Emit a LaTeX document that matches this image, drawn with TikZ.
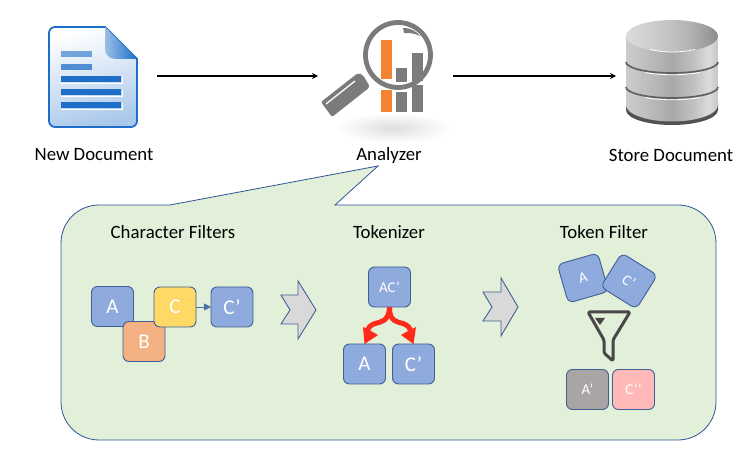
\documentclass[tikz,border=0pt]{standalone}
\usepackage{fontspec}
\setmainfont{Carlito}
\usetikzlibrary{arrows.meta,calc}
\definecolor{boxblue}{HTML}{8FAADC}
\definecolor{edgeblue}{HTML}{3F5F96}
\definecolor{boxorange}{HTML}{F4B183}
\definecolor{boxyellow}{HTML}{FFD966}
\definecolor{boxgrey}{HTML}{A9A5A5}
\definecolor{boxpink}{HTML}{FFB9B9}
\definecolor{bubble}{HTML}{E2EFD9}
\definecolor{bubbleedge}{HTML}{2F5597}
\definecolor{iconblue}{HTML}{1F6FC8}
\definecolor{lensgrey}{HTML}{7B7B7B}
\definecolor{barorange}{HTML}{F58231}
\definecolor{splitred}{HTML}{FF2A1A}
\pgfdeclarehorizontalshading{dbbody}{100bp}{gray(0bp)=(.80);gray(25bp)=(.80);gray(37bp)=(.74);gray(50bp)=(.66);gray(62bp)=(.76);gray(70bp)=(.86);gray(75bp)=(.78);gray(100bp)=(.78)}
\pgfdeclarehorizontalshading{dbtop}{100bp}{gray(0bp)=(.86);gray(25bp)=(.86);gray(45bp)=(.78);gray(60bp)=(.70);gray(75bp)=(.55);gray(100bp)=(.55)}
\tikzset{
  x=1pt,y=-1pt,
  lab/.style={font=\fontsize{18.8}{22}\selectfont,text=black,inner sep=0pt},
  tok/.style={draw=edgeblue,line width=0.9pt,rounded corners=6pt,minimum width=42pt,minimum height=40pt,inner sep=0pt,outer sep=0pt,text=white,font=\fontsize{21}{24}\selectfont},
  toksmall/.style={tok,font=\fontsize{15}{17}\selectfont},
  hidden/.style={inner sep=0pt,outer sep=0pt,minimum height=10pt},
  flow/.style={-{Stealth[length=6pt,width=6pt]},line width=1.1pt,black},
  stage/.style={draw=edgeblue,line width=0.9pt,fill=black!15,line join=miter},
  docbar/.style={fill=iconblue},
  splitline/.style={draw=splitred,line width=5pt},
  splithead/.style={fill=splitred},
}
\begin{document}
\begin{tikzpicture}
\useasboundingbox (0,0) rectangle (756,473);
\fill[white] (0,0) rectangle (756,473);

% hidden anchors for the top row
\node[hidden,minimum width=108pt] (doc) at (103,76) {};
\node[hidden,minimum width=135pt] (ana) at (385.5,76) {};
\node[hidden,minimum width=102pt] (db) at (667,76) {};
\draw[flow] (doc.east) -- (ana.west);
\draw[flow] (ana.east) -- (db.west);

% document icon
\shade[top color=white,bottom color=iconblue!38!white,shading angle=15,draw=iconblue,line width=1.8pt]
  (105,27) -- (55,27) arc[start angle=270,end angle=180,radius=6] -- (49,121) arc[start angle=180,end angle=90,radius=6]
  -- (131,127) arc[start angle=90,end angle=0,radius=6] -- (137,59) -- cycle;
\shade[left color=iconblue!45!white,right color=iconblue]
  (105,27) -- (137,59) -- (115,59) arc[start angle=90,end angle=180,radius=10] -- cycle;
\fill[docbar,opacity=.6] (61,51) rectangle (92,57);
\fill[docbar,opacity=.75] (61,64) rectangle (92,70);
\fill[docbar] (61,76) rectangle (121,82);
\fill[docbar] (61,89) rectangle (121,95);
\fill[docbar] (61,102) rectangle (121,108);
\draw[white,line width=.8pt] (61,83) -- (122,83) -- (122,77) (61,96) -- (122,96) -- (122,90) (61,109) -- (122,109) -- (122,103);

% analyzer icon
\shade[inner color=black!13,outer color=white] (393,128) ellipse (58 and 15);
\fill[barorange] (381,40) rectangle (392,79);
\fill[barorange] (381,90) rectangle (392,112);
\fill[lensgrey] (396,68) rectangle (407,82);
\fill[lensgrey] (396,92) rectangle (407,112);
\fill[lensgrey] (412,53) rectangle (423,81);
\fill[lensgrey] (412,85) rectangle (423,112);
\draw[lensgrey,line width=4.8pt] (398,55) circle (32.5);
\fill[lensgrey,rounded corners=2pt] (321,102) -- (358,73) -- (363,75) -- (370,87) -- (332,117) -- cycle;
\draw[white,line width=1.3pt] (326,104) -- (355,81);
\fill[lensgrey] (403,28) .. controls (411,28) and (416,31) .. (420,36) .. controls (414,33) and (410,33) .. (404,33) -- cycle;

% database icon
\fill[black!68] (626,102) -- (626,110) arc[start angle=180,end angle=0,x radius=46,y radius=15] -- (718,102) -- cycle;
\shade[shading=dbbody] (626,36) -- (626,105) arc[start angle=180,end angle=0,x radius=46,y radius=16.5] -- (718,36) -- cycle;
\shade[shading=dbtop] (672,36) ellipse (46 and 16);
\draw[black!62,line width=1.7pt] (626,62) arc[start angle=180,end angle=0,x radius=46,y radius=11];
\draw[black!62,line width=1.7pt] (626,87) arc[start angle=180,end angle=0,x radius=46,y radius=11];
\draw[white,line width=.8pt] (650,49.5) .. controls (664,52.8) and (680,52.8) .. (695,49.5);
\draw[white,line width=.8pt] (645,72.5) .. controls (660,75.5) and (684,75.5) .. (700,72.5);
\draw[white,line width=.8pt] (645,97.5) .. controls (660,100.5) and (684,100.5) .. (700,97.5);

% labels of the top row
\node[lab] (l1) at (94,155) {New Document};
\node[lab] (l2) at (389,155) {Analyzer};
\node[lab] (l3) at (671,155) {Store Document};

% callout bubble
\draw[bubbleedge,fill=bubble,line width=.8pt]
  (378,166) -- (335,205) -- (678,205) arc[start angle=-90,end angle=0,radius=38]
  -- (716,402) arc[start angle=0,end angle=90,radius=38]
  -- (99,440) arc[start angle=90,end angle=180,radius=38]
  -- (61,243) arc[start angle=180,end angle=270,radius=38]
  -- (170,205) -- cycle;

\node[lab] (h1) at (173,232) {Character Filters};
\node[lab] (h2) at (389,232) {Tokenizer};
\node[lab] (h3) at (604,232) {Token Filter};

% character filters
\node[tok,fill=boxblue] (ca) at (112.5,306.5) {A};
\node[tok,fill=boxorange] (cb) at (144,341.5) {B};
\node[tok,fill=boxyellow] (cc) at (175,307) {C};
\node[tok,fill=boxblue] (cd) at (232,307) {C’};
\draw[-{Triangle[length=7pt,width=7pt]},bubbleedge!85!white,line width=.9pt] (cc) -- (cd);

% stage arrows
\draw[stage] (281,295) -- (298,295) -- (298,281) -- (316,310) -- (298,339) -- (298,324) -- (281,324) -- (290,310) -- cycle;
\draw[stage] (483,292) -- (501,292) -- (501,278) -- (518,307) -- (501,336) -- (501,321) -- (483,321) -- (492,307) -- cycle;

% tokenizer
\node[toksmall,fill=boxblue] (ta) at (389.5,287) {AC’};
\node[tok,fill=boxblue] (tb) at (364.5,364) {A};
\node[tok,fill=boxblue] (tc) at (413.5,364) {C’};
\draw[splitline] (ta.south) .. controls (389,322) and (380,322) .. (375,323.5) .. controls (371,325) and (368,327) .. (366.5,333);
\draw[splitline] (ta.south) .. controls (389,322) and (398,322) .. (403,323.5) .. controls (407,325) and (410,327) .. (411.5,333);
\fill[splithead] (tb.north) -- (363,327) -- (371,331) -- (378,335) -- cycle;
\fill[splithead] (tc.north) -- (416,327) -- (408,331) -- (401,335) -- cycle;

% token filter
\node[toksmall,fill=boxblue,rotate=16] (fa) at (583,278) {A};
\node[toksmall,fill=boxblue,rotate=-32] (fc) at (629,281) {C’};
\draw[black!72,line width=3pt,line join=round,rounded corners=1.5pt] (588,312) -- (630,312) -- (613,340) -- (613,361) -- (604,353) -- (604,340) -- cycle;
\fill[black!72] (595,318) -- (605,318) -- (600,325) -- cycle;
\node[toksmall,fill=boxgrey] (fd) at (587.5,389.5) {A’};
\node[toksmall,fill=boxpink] (fe) at (633.5,389.5) {C’’};
\end{tikzpicture}
\end{document}
